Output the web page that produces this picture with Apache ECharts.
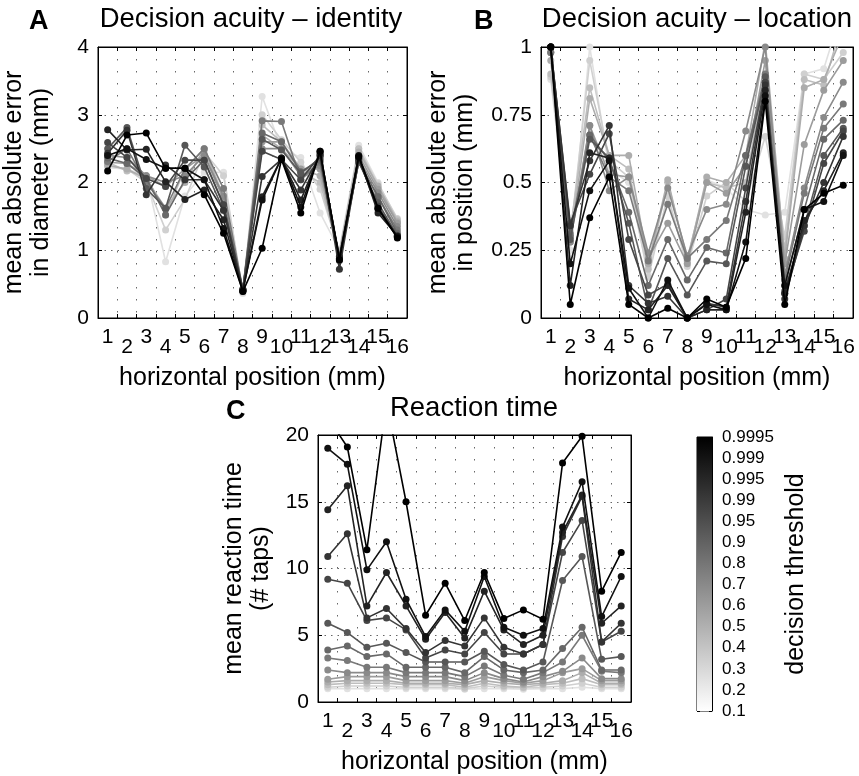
<!DOCTYPE html>
<html><head><meta charset="utf-8">
<script src="https://cdn.jsdelivr.net/npm/echarts@6/dist/echarts.min.js"></script>
<style>html,body{margin:0;padding:0;background:#fff}#c{width:859px;height:776px}</style>
</head><body><div id="c"></div><script>
// ---------- data ----------
const positions = ['1','2','3','4','5','6','7','8','9','10','11','12','13','14','15','16'];
const thresholds = ['0.1','0.2','0.3','0.4','0.5','0.6','0.7','0.8','0.9','0.95','0.99','0.995','0.999','0.9995'];

// Panel A: mean absolute error in diameter (mm)
const identity_0100 = [2.22,2.20,2.10,0.83,1.80,2.15,2.15,0.36,3.27,2.50,2.37,1.55,1.00,2.55,2.00,1.45];
const identity_0200 = [2.25,2.20,2.00,1.30,1.75,2.45,2.10,0.38,3.00,2.63,2.30,1.90,0.98,2.50,1.98,1.47];
const identity_0300 = [2.30,2.17,2.10,1.52,2.20,2.50,1.80,0.40,2.85,2.60,2.16,2.00,0.95,2.50,1.93,1.45];
const identity_0400 = [2.25,2.20,2.05,1.62,2.00,2.50,1.75,0.40,2.70,2.50,2.20,2.10,0.95,2.45,1.95,1.42];
const identity_0500 = [2.30,2.28,2.10,1.94,2.20,2.40,1.75,0.41,2.60,2.60,2.20,2.20,0.92,2.40,1.90,1.40];
const identity_0600 = [2.40,2.37,2.10,2.00,2.10,2.40,1.80,0.42,2.50,2.50,2.10,2.25,0.90,2.35,1.85,1.35];
const identity_0700 = [2.31,2.50,2.00,1.62,2.20,2.50,1.91,0.42,2.91,2.90,2.04,2.30,0.90,2.30,1.79,1.30];
const identity_0800 = [2.36,2.28,2.06,1.52,2.04,2.33,1.67,0.42,2.73,2.60,2.16,2.33,0.88,2.30,1.79,1.25];
const identity_0900 = [2.50,2.81,1.91,1.62,2.55,2.23,1.59,0.42,2.64,2.48,2.14,2.36,0.85,2.30,1.70,1.22];
const identity_0950 = [2.59,2.37,2.06,1.94,2.33,2.33,1.67,0.42,2.46,2.34,2.04,2.40,0.88,2.33,1.65,1.20];
const identity_0990 = [2.43,2.77,1.82,2.26,2.04,2.04,1.59,0.41,2.09,2.34,1.89,2.40,0.72,2.35,1.60,1.20];
const identity_0995 = [2.78,2.48,2.49,2.01,1.75,1.89,1.45,0.40,1.79,2.36,1.74,2.43,0.90,2.38,1.55,1.21];
const identity_0999 = [2.40,2.50,2.34,2.21,2.21,2.04,1.32,0.40,1.74,2.36,1.64,2.46,0.86,2.40,1.62,1.20];
const identity_09995 = [2.17,2.70,2.73,2.21,2.21,1.82,1.25,0.39,1.03,2.34,1.55,2.46,0.86,2.38,1.62,1.18];

// Panel B: mean absolute error in position (mm)
const location_0100 = [0.88,0.25,1.00,0.55,0.50,0.16,0.45,0.20,0.51,0.48,0.40,0.38,0.39,0.90,0.92,1.15];
const location_0200 = [0.89,0.30,0.95,0.58,0.52,0.15,0.45,0.19,0.45,0.50,0.43,0.67,0.30,0.90,0.88,0.98];
const location_0300 = [0.90,0.32,0.85,0.60,0.55,0.18,0.50,0.22,0.50,0.48,0.50,0.90,0.25,0.88,0.86,1.10];
const location_0400 = [0.95,0.28,0.81,0.60,0.60,0.20,0.51,0.21,0.52,0.50,0.60,1.02,0.22,0.85,0.88,1.05];
const location_0500 = [0.98,0.30,0.71,0.53,0.52,0.22,0.35,0.20,0.50,0.46,0.56,0.95,0.20,0.64,0.84,0.95];
const location_0600 = [0.98,0.28,0.71,0.47,0.52,0.24,0.48,0.23,0.40,0.42,0.69,1.00,0.16,0.48,0.74,0.87];
const location_0700 = [0.98,0.30,0.675,0.52,0.47,0.21,0.42,0.22,0.29,0.36,0.60,0.90,0.14,0.46,0.70,0.79];
const location_0800 = [1.00,0.31,0.675,0.58,0.39,0.12,0.29,0.14,0.26,0.24,0.60,0.87,0.12,0.40,0.66,0.73];
const location_0900 = [1.00,0.29,0.66,0.59,0.35,0.03,0.22,0.085,0.21,0.20,0.56,0.89,0.10,0.34,0.60,0.70];
const location_0950 = [1.00,0.35,0.53,0.68,0.29,0.085,0.125,0.00,0.03,0.07,0.48,0.87,0.09,0.32,0.57,0.69];
const location_0990 = [1.00,0.34,0.58,0.71,0.12,0.054,0.08,0.00,0.054,0.04,0.43,0.86,0.07,0.34,0.50,0.67];
const location_0995 = [1.00,0.12,0.61,0.59,0.07,0.03,0.12,0.00,0.03,0.03,0.39,0.84,0.09,0.36,0.47,0.61];
const location_0999 = [1.00,0.20,0.47,0.58,0.11,0.00,0.14,0.00,0.05,0.03,0.28,0.82,0.12,0.40,0.43,0.60];
const location_09995 = [1.00,0.05,0.37,0.52,0.05,0.00,0.036,0.00,0.07,0.04,0.22,0.80,0.05,0.40,0.46,0.49];

// Panel C: mean reaction time (# taps)
const rt_0100 = [1.0,1.0,1.0,1.0,1.0,1.0,1.0,0.95,1.0,1.0,0.95,1.0,1.0,1.1,1.0,1.0];
const rt_0200 = [1.1,1.2,1.2,1.2,1.1,1.1,1.1,1.0,1.2,1.1,1.05,1.1,1.2,1.4,1.1,1.1];
const rt_0300 = [1.3,1.4,1.4,1.4,1.3,1.3,1.3,1.1,1.4,1.2,1.1,1.3,1.4,1.75,1.3,1.3];
const rt_0400 = [1.5,1.6,1.6,1.6,1.4,1.4,1.4,1.3,1.6,1.4,1.3,1.4,1.6,2.2,1.4,1.4];
const rt_0500 = [1.7,1.9,1.9,1.9,1.6,1.6,1.6,1.4,1.9,1.6,1.4,1.6,2.2,2.5,1.6,1.6];
const rt_0600 = [2.4,2.2,2.2,2.2,1.9,1.9,1.9,1.6,2.2,1.75,1.5,1.9,2.3,3.3,1.75,1.75];
const rt_0700 = [3.3,3.1,2.6,2.6,2.2,2.2,2.2,1.9,2.7,2.0,1.7,2.2,3.0,5.0,2.3,2.2];
const rt_0800 = [3.9,4.2,3.4,3.6,2.6,2.6,2.6,2.2,3.4,2.4,2.2,2.4,4.0,5.6,2.4,2.4];
const rt_0900 = [5.9,5.2,4.1,4.4,3.7,3.0,3.0,3.0,3.8,2.8,2.4,3.0,9.1,10.9,3.2,3.4];
const rt_0950 = [9.2,8.9,6.1,6.3,5.4,3.3,3.9,3.6,5.2,3.6,3.6,4.3,11.2,13.6,4.5,5.3];
const rt_0990 = [10.9,12.6,6.3,7.0,5.5,3.7,4.6,4.2,6.3,4.1,3.6,4.3,12.4,15.4,4.5,5.9];
const rt_0995 = [14.4,16.2,7.2,9.7,7.2,4.7,6.7,4.8,8.3,5.4,4.3,5.0,12.7,15.5,5.9,7.2];
const rt_0999 = [19.0,17.8,9.9,12.0,7.7,4.9,6.9,5.3,9.4,5.6,5.0,5.5,13.1,16.5,6.4,9.4];
const rt_09995 = [21.3,19.1,11.4,22.5,15.0,6.5,8.9,6.1,9.7,6.25,6.9,6.2,17.9,19.9,8.3,11.2];

const identitySeries = [identity_0100,identity_0200,identity_0300,identity_0400,identity_0500,identity_0600,identity_0700,identity_0800,identity_0900,identity_0950,identity_0990,identity_0995,identity_0999,identity_09995];
const locationSeries = [location_0100,location_0200,location_0300,location_0400,location_0500,location_0600,location_0700,location_0800,location_0900,location_0950,location_0990,location_0995,location_0999,location_09995];
const rtSeries = [rt_0100,rt_0200,rt_0300,rt_0400,rt_0500,rt_0600,rt_0700,rt_0800,rt_0900,rt_0950,rt_0990,rt_0995,rt_0999,rt_09995];

// ---------- styling ----------
const FONT = '"Liberation Sans", Arial, Helvetica, sans-serif';
function grayFor(i){ const g = Math.round(225*(1 - i/13)); return 'rgb('+g+','+g+','+g+')'; }
const dottedV = {color:'#666', type:[1.5,10.5], width:1};
const dottedH = {color:'#666', type:[1.5,5], width:1};

const grids = [
  {left:96, top:47, width:311, height:271},
  {left:541, top:47, width:312, height:271},
  {left:318, top:435, width:313, height:274},
  {left:697, top:437, width:15, height:274}
].map(g => Object.assign({show:true, borderColor:'#000', borderWidth:1, backgroundColor:'transparent'}, g));

function bottomX(g){
  return {
    type:'category', gridIndex:g, data:positions, boundaryGap:true, position:'bottom',
    axisLine:{show:true, onZero:false, lineStyle:{color:'#000', width:1}},
    axisTick:{show:true, inside:true, length:4, interval:0, lineStyle:{color:'#000'}},
    axisLabel:{interval:0, margin:9, color:'#000', fontSize:21, fontFamily:FONT,
      formatter:(v,i)=> (i%2===0 ? '{o|'+v+'}' : '{e|'+v+'}'),
      rich:{o:{fontSize:21, fontFamily:FONT, color:'#000'},
            e:{fontSize:21, fontFamily:FONT, color:'#000', padding:[10,0,0,0]}}},
    splitLine:{show:true, interval:0, lineStyle:dottedV},
    name:'horizontal position (mm)', nameLocation:'middle', nameGap:48,
    nameTextStyle:{fontSize:25, color:'#000', fontFamily:FONT}
  };
}
function topX(g){
  return {type:'category', gridIndex:g, data:positions, boundaryGap:true, position:'top',
    axisLine:{show:true, onZero:false, lineStyle:{color:'#000'}},
    axisTick:{show:true, inside:true, length:4, interval:0, lineStyle:{color:'#000'}},
    axisLabel:{show:false}, splitLine:{show:false}};
}
function leftY(g, min, max, interval, name, nameGap){
  return {type:'value', gridIndex:g, min, max, interval, position:'left',
    axisLine:{show:true, onZero:false, lineStyle:{color:'#000'}},
    axisTick:{show:true, inside:true, length:4, lineStyle:{color:'#000'}},
    axisLabel:{margin:9, color:'#000', fontSize:21, fontFamily:FONT},
    splitLine:{show:true, lineStyle:dottedH},
    name, nameLocation:'middle', nameRotate:90, nameGap,
    nameTextStyle:{fontSize:25, lineHeight:27, color:'#000', fontFamily:FONT, align:'center'}};
}
function rightY(g, min, max, interval){
  return {type:'value', gridIndex:g, min, max, interval, position:'right',
    axisLine:{show:true, onZero:false, lineStyle:{color:'#000'}},
    axisTick:{show:true, inside:true, length:4, lineStyle:{color:'#000'}},
    axisLabel:{show:false}, splitLine:{show:false}};
}

const xAxis = [bottomX(0), bottomX(1), bottomX(2), topX(0), topX(1), topX(2),
  {type:'category', gridIndex:3, data:['cb'], show:false}];
const yAxis = [
  leftY(0, 0, 4, 1, 'mean absolute error\nin diameter (mm)', 43),
  leftY(1, 0, 1, 0.25, 'mean absolute error\nin position (mm)', 62),
  leftY(2, 0, 20, 5, 'mean reaction time\n(# taps)', 43),
  rightY(0, 0, 4, 1), rightY(1, 0, 1, 0.25), rightY(2, 0, 20, 5),
  {type:'value', gridIndex:3, min:0, max:13, interval:1, position:'right',
    axisLine:{show:true, lineStyle:{color:'#000'}},
    axisTick:{show:true, inside:true, length:3, lineStyle:{color:'#000'}},
    axisLabel:{margin:10, color:'#000', fontSize:17, fontFamily:FONT, formatter:v=>thresholds[v]},
    splitLine:{show:false},
    name:'decision threshold', nameLocation:'middle', nameRotate:90, nameGap:72,
    nameTextStyle:{fontSize:25, color:'#000', fontFamily:FONT}},
  {type:'value', gridIndex:3, min:0, max:13, interval:1, position:'left',
    axisLine:{show:false}, axisTick:{show:true, inside:true, length:3, lineStyle:{color:'#000'}},
    axisLabel:{show:false}, splitLine:{show:false}}
];

const series = [];
[identitySeries, locationSeries, rtSeries].forEach((set, g) => {
  set.forEach((vals, i) => {
    const c = grayFor(i);
    series.push({type:'line', xAxisIndex:g, yAxisIndex:g, data:vals, name:thresholds[i],
      symbol:'circle', symbolSize:7, showSymbol:true, clip:true,
      lineStyle:{width:1.6, color:c}, itemStyle:{color:c}, z:2+i, silent:true});
  });
});
series.push({type:'bar', xAxisIndex:6, yAxisIndex:6, data:[thresholds.length-1], barWidth:'100%', silent:true,
  itemStyle:{color:new echarts.graphic.LinearGradient(0,0,0,1,[{offset:0,color:'#000'},{offset:1,color:'#fff'}])}});

const tStyle = {fontSize:27.5, fontWeight:'normal', color:'#000', fontFamily:FONT};
const lStyle = {fontSize:27, fontWeight:'bold', color:'#000', fontFamily:FONT};
const title = [
  {text:'A', left:29, top:8, padding:0, textStyle:lStyle},
  {text:'Decision acuity \u2013 identity', left:251, top:5, padding:0, textAlign:'center', textStyle:tStyle},
  {text:'B', left:474, top:8, padding:0, textStyle:lStyle},
  {text:'Decision acuity \u2013 location', left:697, top:5, padding:0, textAlign:'center', textStyle:tStyle},
  {text:'C', left:226, top:398, padding:0, textStyle:lStyle},
  {text:'Reaction time', left:474, top:394, padding:0, textAlign:'center', textStyle:tStyle}
];

const chart = echarts.init(document.getElementById('c'), null, {renderer:'canvas'});
chart.setOption({animation:false, backgroundColor:'#fff', title, grid:grids, xAxis, yAxis, series});
</script></body></html>
